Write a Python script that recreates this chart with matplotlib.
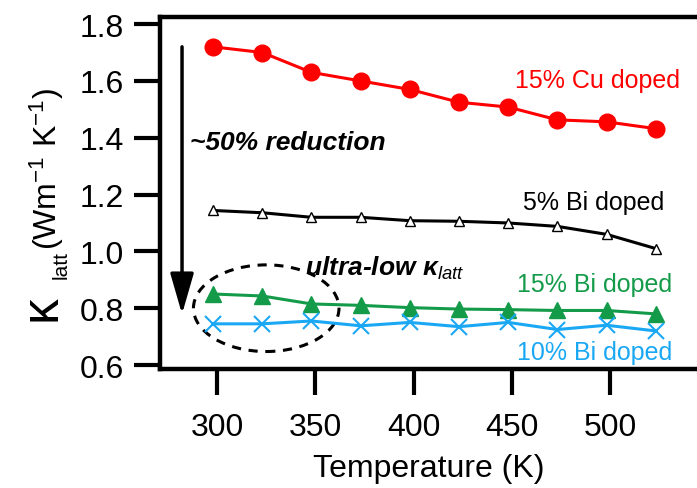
import matplotlib
matplotlib.use("Agg")
import matplotlib.pyplot as plt
from matplotlib.patches import Ellipse

plt.rcParams["font.family"] = ["Liberation Sans", "DejaVu Sans"]
plt.rcParams["mathtext.fontset"] = "custom"
plt.rcParams["mathtext.rm"] = "Liberation Sans"
plt.rcParams["mathtext.it"] = "Liberation Sans:italic"
plt.rcParams["mathtext.bf"] = "Liberation Sans:bold"

# Temperature (K)
temperature = [298, 323, 348, 373, 398, 423, 448, 473, 498, 523]

# Lattice thermal conductivity (W m^-1 K^-1)
cu15 = [1.72, 1.70, 1.63, 1.60, 1.57, 1.525, 1.508, 1.463, 1.456, 1.432]
bi5 = [1.144, 1.136, 1.12, 1.12, 1.108, 1.106, 1.10, 1.088, 1.06, 1.01]
bi15 = [0.85, 0.843, 0.815, 0.81, 0.802, 0.797, 0.795, 0.792, 0.792, 0.78]
bi10 = [0.745, 0.745, 0.755, 0.738, 0.75, 0.735, 0.75, 0.725, 0.74, 0.72]

red = "#ff0000"
green = "#149b4a"
blue = "#1aa8f5"

fig = plt.figure(figsize=(6.97, 4.89), dpi=100)
ax = fig.add_axes([160 / 697, 119 / 489, 537 / 697, 352 / 489])

ax.plot(temperature, cu15, color=red, marker="o", markersize=12, linewidth=2.2)
ax.plot(temperature, bi5, color="black", marker="^", markersize=7,
        markerfacecolor="white", markeredgecolor="black", linewidth=2.2)
ax.plot(temperature, bi15, color=green, marker="^", markersize=12, linewidth=2.2)
ax.plot(temperature, bi10, color=blue, marker="x", markersize=12,
        markeredgewidth=1.5, linewidth=2.2)

ax.set_xlim(271, 544)
ax.set_ylim(0.586, 1.825)
ax.set_xticks([300, 350, 400, 450, 500])
ax.set_yticks([0.6, 0.8, 1.0, 1.2, 1.4, 1.6, 1.8])
ax.set_yticklabels(["0.6", "0.8", "1.0", "1.2", "1.4", "1.6", "1.8"])
ax.tick_params(direction="out", length=19, width=3, labelsize=23, pad=7)
ax.tick_params(axis="x", pad=12)
for side in ["left", "bottom", "top"]:
    ax.spines[side].set_linewidth(3.2)
ax.spines["right"].set_visible(False)

ax.set_xlabel("Temperature (K)", fontsize=23, labelpad=8)

# y label built from pieces: large kappa, subscript, units
fig.text(56 / 697, 1 - 321 / 489, "κ", fontsize=37, rotation=90,
         rotation_mode="anchor", ha="left", va="baseline")
fig.text(67 / 697, 1 - 279 / 489, "latt", fontsize=15, rotation=90,
         rotation_mode="anchor", ha="left", va="baseline")
fig.text(57 / 697, 1 - 250 / 489, "(Wm$^{-1}$ K$^{-1}$)",
         fontsize=23, rotation=90, rotation_mode="anchor",
         ha="left", va="baseline")

# reduction arrow
ax.annotate("", xy=(282.2, 0.779), xytext=(282.2, 1.72),
            arrowprops=dict(arrowstyle="-|>,head_length=1.25,head_width=0.36",
                            mutation_scale=20, shrinkA=0, shrinkB=0,
                            color="black", lw=2.5))
ax.text(286.3, 1.386, "~50% reduction", fontsize=19, fontweight="bold",
        fontstyle="italic", va="center", ha="left")

# ultra-low region
ax.add_patch(Ellipse((325, 0.80), 74, 0.305, fill=False, edgecolor="black",
                     linestyle=(0, (3, 2.5)), linewidth=2.2))
ax.text(344.7, 0.944, "ultra-low κ$_{latt}$", fontsize=19, fontweight="bold",
        fontstyle="italic", va="center", ha="left")

ax.text(535.5, 1.603, "15% Cu doped", color=red, fontsize=18, ha="right", va="center")
ax.text(527.4, 1.175, "5% Bi doped", color="black", fontsize=18, ha="right", va="center")
ax.text(531.5, 0.884, "15% Bi doped", color=green, fontsize=18, ha="right", va="center")
ax.text(531.5, 0.646, "10% Bi doped", color=blue, fontsize=18, ha="right", va="center")

fig.savefig("out.png", dpi=100)
